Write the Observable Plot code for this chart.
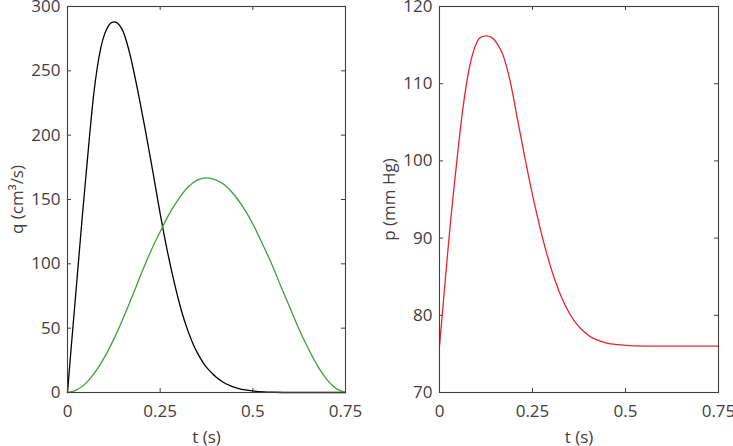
<!DOCTYPE html>
<html><head><meta charset="utf-8">
<script src="https://cdn.jsdelivr.net/npm/d3@7"></script>
<script src="https://cdn.jsdelivr.net/npm/@observablehq/plot@0.6"></script>
<style>
body{margin:0;background:#fff;}
#wrap{position:relative;width:733px;height:446px;overflow:hidden;}
#wrap > svg{position:absolute;top:0;}
</style></head><body><div id="wrap"></div>
<script>
// ---- data ----
// left panel: flow q (cm^3/s), black curve
const tIn = [0, 0.01, 0.02, 0.03, 0.04, 0.05, 0.06, 0.07, 0.08, 0.09, 0.1, 0.11, 0.12, 0.127, 0.14, 0.15, 0.16, 0.17, 0.18, 0.19, 0.2, 0.21, 0.22, 0.23, 0.24, 0.25, 0.26, 0.27, 0.28, 0.29, 0.3, 0.31, 0.32, 0.33, 0.34, 0.35, 0.36, 0.37, 0.38, 0.39, 0.4, 0.42, 0.44, 0.46, 0.48, 0.5, 0.53, 0.56, 0.6, 0.75];
const qIn = [0, 35, 69, 103, 137, 169, 201, 230, 252, 268, 278.5, 284.8, 287.7, 288, 285.5, 280.5, 272, 261, 248, 234, 219, 204, 188, 172, 155.5, 139, 123.5, 109, 95.5, 83, 71.5, 61, 52, 44, 37, 31, 26, 21.5, 18, 15, 12.3, 8, 5.2, 3.3, 2, 1.2, 0.5, 0.2, 0, 0];
// left panel: green curve
const tOut = [0, 0.025, 0.05, 0.075, 0.1, 0.125, 0.15, 0.175, 0.2, 0.225, 0.25, 0.275, 0.3, 0.325, 0.35, 0.375, 0.4, 0.425, 0.45, 0.475, 0.5, 0.525, 0.55, 0.575, 0.6, 0.625, 0.65, 0.675, 0.7, 0.725, 0.75];
const qOut = [0, 2, 7.3, 16, 27.5, 41.5, 57.5, 75, 93, 110, 125, 139, 150.5, 159.5, 165, 166.8, 165.3, 161, 153.5, 143.5, 131, 116, 100.5, 83, 66, 49, 34, 20.5, 10, 3, 0];
// right panel: pressure p (mm Hg), red curve
const tP = [0, 0.01, 0.02, 0.03, 0.04, 0.05, 0.06, 0.07, 0.08, 0.09, 0.1, 0.11, 0.127, 0.14, 0.155, 0.17, 0.19, 0.21, 0.23, 0.25, 0.27, 0.29, 0.31, 0.33, 0.35, 0.37, 0.39, 0.41, 0.43, 0.45, 0.48, 0.52, 0.6, 0.75];
const pP = [76, 81.5, 87, 92.3, 97, 101.5, 105.7, 109.2, 112, 114, 115.3, 116, 116.2, 116, 115.2, 113.8, 110.3, 105.3, 100.3, 95.6, 91.4, 87.7, 84.6, 82.1, 80.2, 78.8, 77.8, 77.1, 76.7, 76.4, 76.2, 76.05, 76, 76];
// axes
const xTicks = [0, 0.25, 0.5, 0.75];
const qTicks = [0, 50, 100, 150, 200, 250, 300];
const pTicks = [70, 80, 90, 100, 110, 120];

const H = 446, MT = 6, MB = 54;
const axisColor = "#404040";
function rows(xs, ys) { return xs.map((t, i) => ({t, v: ys[i]})); }

function panel({width, ml, mr, yDomain, yTicks, ylabel, series}) {
  const ph = H - MT - MB, pw = width - ml - mr;
  return Plot.plot({
    width, height: H, marginLeft: ml, marginRight: mr, marginTop: MT, marginBottom: MB,
    style: {fontFamily: "Open Sans", fontSize: "17px", color: "#404040", background: "white", overflow: "visible"},
    x: {domain: [0, 0.75]},
    y: {domain: yDomain},
    marks: [
      Plot.axisX(xTicks, {tickSize: 0, tickPadding: 12, tickFormat: d => String(d), label: "t (s)", labelAnchor: "center", labelOffset: 50, labelArrow: "none", fontSize: 17}),
      Plot.axisY(yTicks, {tickSize: 0, tickPadding: 7, tickFormat: d => String(d), label: ylabel, labelAnchor: "center", labelOffset: 57, labelArrow: "none", fontSize: 17}),
      Plot.tickX(xTicks, {x: d => d, insetTop: ph - 4, stroke: axisColor}),
      Plot.tickX(xTicks, {x: d => d, insetBottom: ph - 4, stroke: axisColor}),
      Plot.tickY(yTicks, {y: d => d, insetRight: pw - 4, stroke: axisColor}),
      Plot.tickY(yTicks, {y: d => d, insetLeft: pw - 4, stroke: axisColor}),
      ...series.map(s => Plot.line(rows(s.t, s.v), {x: "t", y: "v", stroke: s.color, strokeWidth: 1.3, curve: "monotone-x"})),
      Plot.frame({stroke: axisColor, strokeWidth: 1.1})
    ]
  });
}

const left = panel({width: 370, ml: 67, mr: 25, yDomain: [0, 300], yTicks: qTicks, ylabel: "q (cm³/s)",
  series: [{t: tIn, v: qIn, color: "#000000"}, {t: tOut, v: qOut, color: "#3f9f3f"}]});
const right = panel({width: 363, ml: 69, mr: 15, yDomain: [70, 120], yTicks: pTicks, ylabel: "p (mm Hg)",
  series: [{t: tP, v: pP, color: "#e3262a"}]});
for (const svg of [left, right]) {
  svg.style.fontSize = "17px";
  svg.setAttribute("font-size", "17");
  d3.select(svg).selectAll("g").attr("font-size", null);
  d3.select(svg).selectAll("text").style("font-size", "17px").style("font-family", "'Open Sans', sans-serif").style("fill", "#404040");
}
left.style.left = "0px";
right.style.left = "370px";
document.getElementById("wrap").append(left, right);
</script></body></html>
